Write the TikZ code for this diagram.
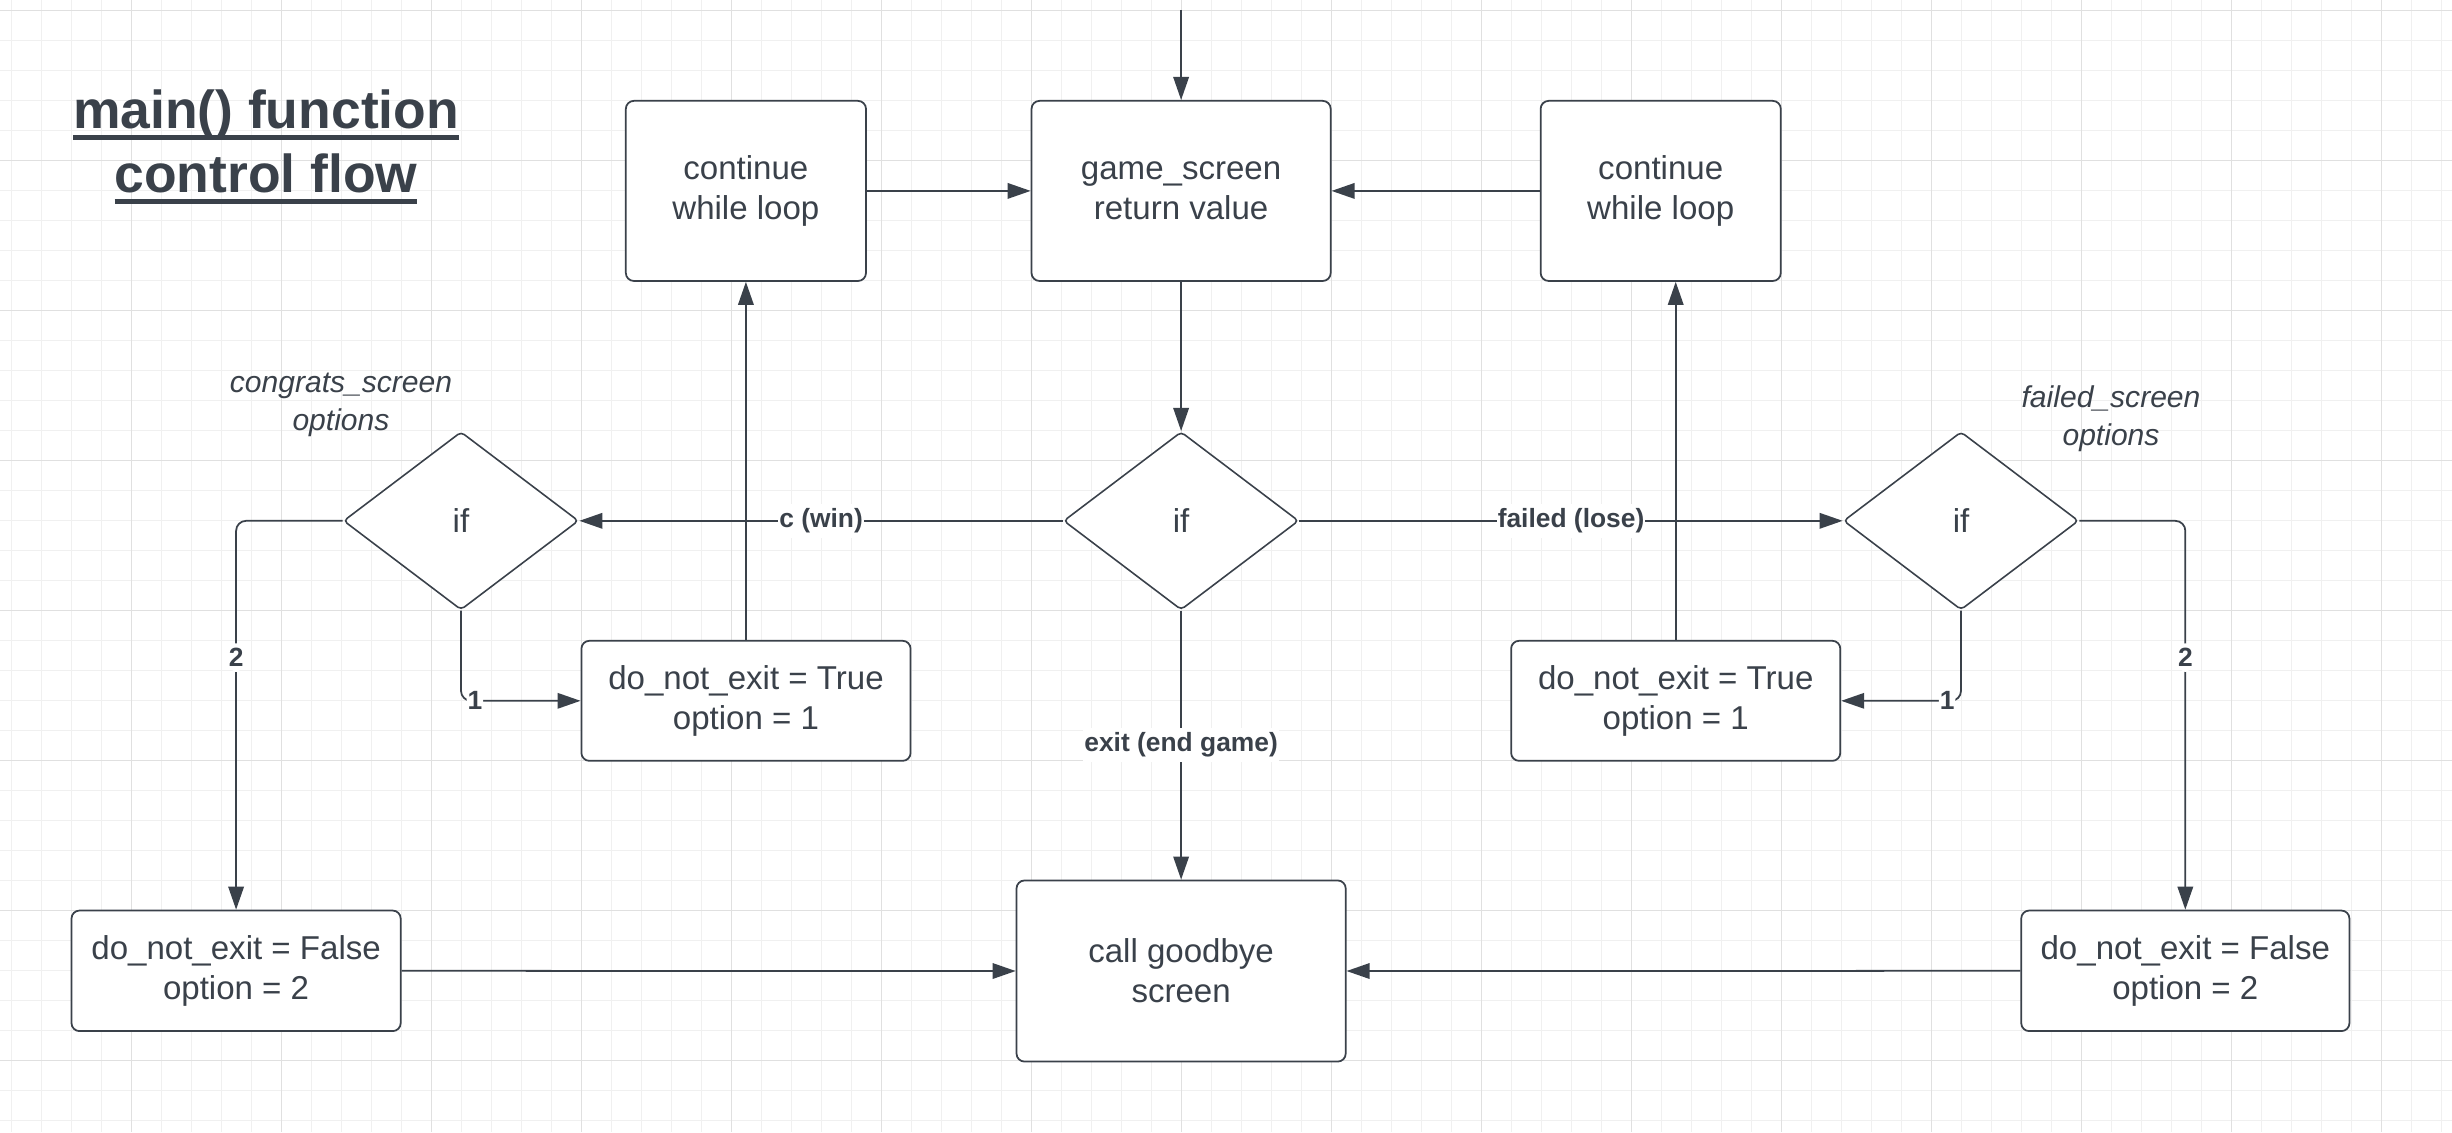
\documentclass[tikz,border=0pt]{standalone}
\usepackage{fontspec}
\setmainfont{Liberation Sans}
\usetikzlibrary{arrows.meta,shapes.geometric}
\definecolor{ink}{HTML}{3A414A}
\definecolor{gminor}{HTML}{F0F0F0}
\definecolor{gmajor}{HTML}{E0E0E0}
\newcommand{\mytul}[1]{\leavevmode\setbox0\hbox{#1}\rlap{\rule[-3.4pt]{\wd0}{1.4pt}}\box0}
\tikzset{
 boxnode/.style={draw=ink, line width=0.5pt, rounded corners=0.08cm, fill=white, text=ink, align=center, font=\fontsize{9.4pt}{11.3pt}\selectfont, inner sep=0pt},
 decision/.style={diamond, draw=ink, line width=0.45pt, rounded corners=0.04cm, fill=white, text=ink, font=\fontsize{9.4pt}{11.3pt}\selectfont, minimum width=2.35cm, minimum height=1.78cm, inner sep=0pt},
 conn/.style={draw=ink, line width=0.5pt, -{Triangle[length=0.23cm,width=0.155cm]}},
 lab/.style={fill=white, text=ink, font=\fontsize{7.5pt}{9pt}\selectfont\bfseries, inner xsep=0.01cm, inner ysep=0.05cm},
 note/.style={text=ink, align=center, font=\fontsize{8.55pt}{10.7pt}\selectfont\itshape},
 gridminor/.style={draw=gminor, line width=0.28pt},
 gridmajor/.style={draw=gmajor, line width=0.28pt},
}
\begin{document}
\begin{tikzpicture}[x=0.01cm, y=-0.01cm]
\useasboundingbox (0,0) rectangle (2452,1132);
\fill[white] (0,0) rectangle (2452,1132);
% grid
\foreach \i in {0,...,81} \draw[gridminor] ({11.7+30*\i},0) -- ({11.7+30*\i},1132);
\foreach \i in {0,...,37} \draw[gridminor] (0,{10+30*\i}) -- (2452,{10+30*\i});
\foreach \i in {0,...,15} \draw[gridmajor] ({131.7+150*\i},0) -- ({131.7+150*\i},1132);
\foreach \i in {0,...,7} \draw[gridmajor] (0,{10+150*\i}) -- (2452,{10+150*\i});

% title
\node[text=ink, align=center, font=\fontsize{15.2pt}{18.2pt}\selectfont\bfseries] (title) at (266,147) {\mytul{main() function}\\\mytul{control flow}};

% notes
\node[note] (cnote) at (341,405) {congrats\_screen\\options};
\node[note] (fnote) at (2111,419) {failed\_screen\\options};

% nodes
\node[boxnode, minimum width=2.40cm, minimum height=1.80cm] (lc) at (745.9,190.9) {continue\\while loop};
\node[boxnode, minimum width=2.99cm, minimum height=1.80cm] (gs) at (1181.1,190.9) {game\_screen\\return value};
\node[boxnode, minimum width=2.40cm, minimum height=1.80cm] (rc) at (1660.7,190.9) {continue\\while loop};
\node[decision] (cd) at (1181.1,520.8) {if};
\node[decision] (ld) at (461,520.8) {if};
\node[decision] (rd) at (1961,520.8) {if};
\node[boxnode, minimum width=3.29cm, minimum height=1.20cm] (lt) at (746,700.8) {do\_not\_exit = True\\option = 1};
\node[boxnode, minimum width=3.29cm, minimum height=1.20cm] (rt) at (1675.7,700.8) {do\_not\_exit = True\\option = 1};
\node[boxnode, minimum width=3.29cm, minimum height=1.205cm] (lf) at (236.1,970.8) {do\_not\_exit = False\\option = 2};
\node[boxnode, minimum width=3.28cm, minimum height=1.205cm] (rf) at (2185.3,970.8) {do\_not\_exit = False\\option = 2};
\node[boxnode, minimum width=3.29cm, minimum height=1.81cm] (gb) at (1181.1,971) {call goodbye\\screen};

% connectors
\coordinate (start) at (1181.1,10);
\draw[conn] (start) -- (gs.north);
\draw[conn] (lc.east) -- (gs.west);
\draw[conn] (rc.west) -- (gs.east);
\draw[conn] (gs.south) -- (cd.north);
\draw[conn] (cd.west) -- node[lab]{c (win)} (ld.east);
\draw[conn] (cd.east) -- node[lab]{failed (lose)} (rd.west);
\draw[conn] (cd.south) -- node[lab]{exit (end game)} (gb.north);
\draw[conn, rounded corners=0.1cm] (ld.west) -| node[lab, pos=0.676]{2} (lf.north);
\draw[conn, rounded corners=0.1cm] (rd.east) -| node[lab, pos=0.676]{2} (rf.north);
\draw[conn, rounded corners=0.1cm] (ld.south) |- node[lab, pos=0.558]{1} (lt.west);
\draw[conn, rounded corners=0.1cm] (rd.south) |- node[lab, pos=0.558]{1} (rt.east);
\draw[conn] (lt.north) -- (lc.south);
\draw[conn] (rt.north) -- (rt.north |- rc.south);
\draw[conn] (lf.east) -- (gb.west);
\draw[conn] (rf.west) -- (gb.east);
\end{tikzpicture}
\end{document}
